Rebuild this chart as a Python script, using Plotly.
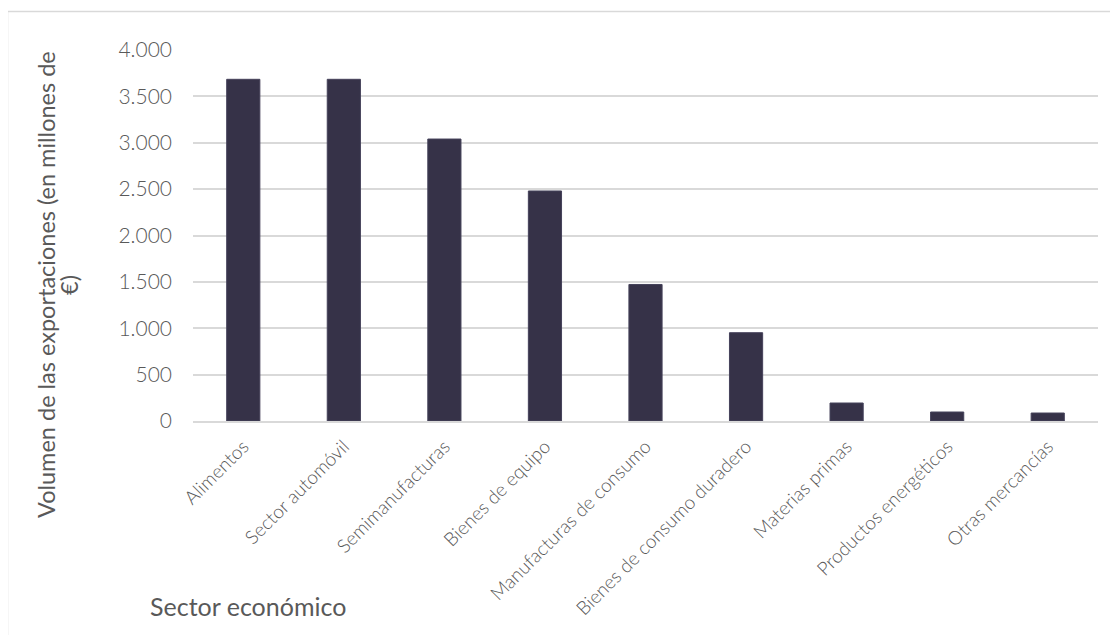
import plotly.graph_objects as go

categories = ["Alimentos", "Sector automóvil", "Semimanufacturas", "Bienes de equipo",
              "Manufacturas de consumo", "Bienes de consumo duradero", "Materias primas",
              "Productos energéticos", "Otras mercancías"]
values = [3684, 3684, 3040, 2480, 1472, 952, 194, 97, 86]
y_ticks = [0, 500, 1000, 1500, 2000, 2500, 3000, 3500, 4000]

# page body has an 8px default margin; work in screen coordinates and shift
OFF = 8
W, H = 1118 - OFF, 635 - OFF
L, R, T, B = 193 - OFF, 20, 50 - OFF, 214
pw, ph = W - L - R, H - T - B

def px_x(x):
    return (x - OFF - L) / pw

def px_y(y):
    return (H - B - (y - OFF)) / ph

fig = go.Figure(go.Bar(
    x=categories, y=values,
    marker=dict(color="#363248", line=dict(color="#45425a", width=1)),
    width=0.33,
))

fig.update_layout(
    width=W, height=H,
    margin=dict(l=L, r=R, t=T, b=B),
    paper_bgcolor="white", plot_bgcolor="white",
    separators=",.",
    showlegend=False,
    font=dict(family="Lato", color="#595959"),
    xaxis=dict(
        tickangle=-45,
        tickfont=dict(family="Lato", size=19, color="#595959", weight=300),
        showline=True, linecolor="#d9d9d9", linewidth=2,
        showgrid=False, ticks="", ticklabelstandoff=5,
        range=[-0.5, 8.5],
    ),
    yaxis=dict(
        range=[0, 4000], tickvals=y_ticks, tickformat=",d",
        tickfont=dict(family="Lato", size=21, color="#595959", weight=300),
        showgrid=True, gridcolor="#d9d9d9", gridwidth=1.5,
        zeroline=False, ticks="", ticklabelstandoff=20,
    ),
    shapes=[
        dict(type="line", xref="paper", yref="paper",
             x0=px_x(7.5), x1=px_x(1125), y0=px_y(11.5), y1=px_y(11.5),
             line=dict(color="#d9d9d9", width=1.5)),
        dict(type="line", xref="paper", yref="paper",
             x0=px_x(7.5), x1=px_x(7.5), y0=px_y(11.5), y1=px_y(640),
             line=dict(color="#d9d9d9", width=1.5)),
    ],
    annotations=[
        dict(text="Volumen de las exportaciones (en millones de",
             xref="paper", yref="paper", x=px_x(46), y=px_y(285),
             textangle=-90, showarrow=False,
             font=dict(family="Lato", size=23.5, color="#595959"),
             xanchor="center", yanchor="middle"),
        dict(text="€)",
             xref="paper", yref="paper", x=px_x(69), y=px_y(285),
             textangle=-90, showarrow=False,
             font=dict(family="Lato", size=23.5, color="#595959"),
             xanchor="center", yanchor="middle"),
        dict(text="Sector económico",
             xref="paper", yref="paper", x=px_x(248), y=px_y(606),
             showarrow=False, xanchor="center", yanchor="middle",
             font=dict(family="Lato", size=25, color="#595959")),
    ],
)

fig.write_html("out.html")
